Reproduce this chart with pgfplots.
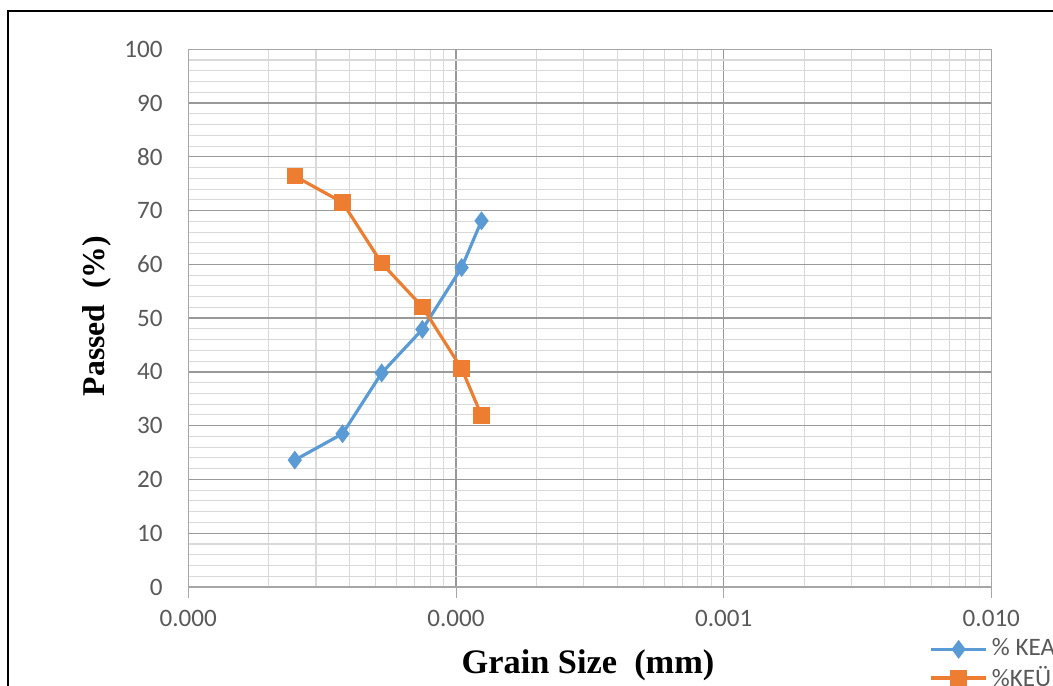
\documentclass[border=0pt]{standalone}
\usepackage{fontspec}
\setmainfont{Carlito}
\newfontfamily\tnr{Liberation Serif}
\usepackage{pgfplots}
\pgfplotsset{compat=1.18}

\definecolor{kea}{HTML}{5B9BD5}
\definecolor{keu}{HTML}{ED7D31}
\definecolor{ticktext}{HTML}{595959}

\begin{document}
\begin{tikzpicture}[x=0.0133cm,y=0.0133cm]
\clip (0,0) rectangle (1053,686);
\useasboundingbox (0,0) rectangle (1053,686);
\draw[line width=1.1pt] (8,675) rectangle (1070,-20);
\coordinate (origin) at (188.3,99);

\begin{axis}[
    at={(origin)}, anchor=south west,
    scale only axis,
    width=10.685cm, height=7.155cm,
    xmode=log,
    xmin=1e-5, xmax=1e-2,
    ymin=0, ymax=100,
    xtick={1e-5,1e-4,1e-3,1e-2},
    xticklabels={0.000,0.000,0.001,0.010},
    ytick={0,10,...,100},
    minor y tick num=4,
    grid=both,
    major grid style={draw=black!40, line width=0.5pt},
    minor grid style={draw=black!15, line width=0.4pt},
    axis line style={draw=black!35},
    tick style={draw=black!35},
    xtick pos=bottom, ytick pos=left,
    tick align=outside,
    major tick length=4pt,
    minor tick length=0pt,
    y tick style={draw=none},
    /pgf/number format/assume math mode=true,
    tick label style={font=\fontsize{9.5}{11}\selectfont, text=ticktext},
    xticklabel style={yshift=-1.2pt},
    yticklabel style={xshift=-2.2pt},
    legend style={at={(0.922,-0.088)}, anchor=north west, draw=none, fill=none,
        font=\fontsize{9.5}{11}\selectfont, text=ticktext, row sep=-0.7pt,
        inner sep=0pt, nodes={inner sep=1.5pt}},
    legend image code/.code={
        \draw[mark repeat=2, mark phase=2]
        plot coordinates {(0cm,0cm) (0.37cm,0cm) (0.74cm,0cm)};},
    legend cell align=left,
    clip=false,
]
\addplot[kea, line width=1.2pt, mark=diamond*, mark size=2.6pt,
    mark options={solid, fill=kea}]
coordinates {
    (2.50e-5,23.6)
    (3.77e-5,28.5)
    (5.28e-5,39.8)
    (7.49e-5,47.9)
    (1.05e-4,59.4)
    (1.246e-4,68.1)
};
\addlegendentry{\% KEA}
\addplot[keu, line width=1.2pt, mark=square*, mark size=2.5pt,
    mark options={solid, fill=keu}]
coordinates {
    (2.50e-5,76.4)
    (3.77e-5,71.5)
    (5.28e-5,60.2)
    (7.49e-5,52.1)
    (1.05e-4,40.6)
    (1.246e-4,31.9)
};
\addlegendentry{\%KEÜ}
\end{axis}

\node[font=\tnr\bfseries\fontsize{13}{15}\selectfont] at (588,21) {Grain Size\ \ (mm)};
\node[font=\tnr\bfseries\fontsize{12}{14}\selectfont, rotate=90] at (97,370) {Passed\ \ (\%)};
\end{tikzpicture}
\end{document}
